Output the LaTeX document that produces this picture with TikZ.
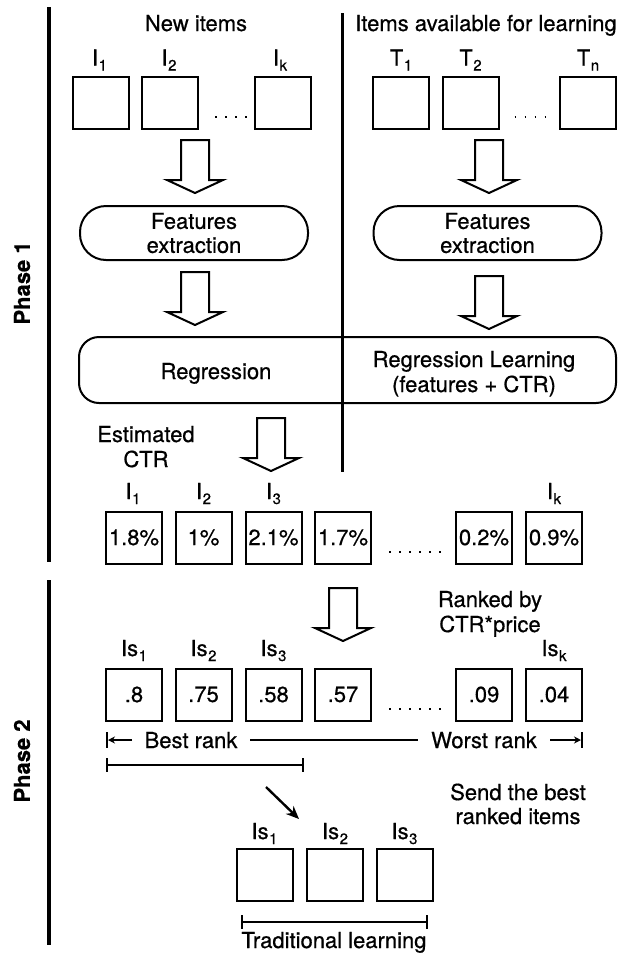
\documentclass[tikz,border=0pt]{standalone}
\usepackage{fontspec}
\setmainfont{TeX Gyre Heros}[FakeBold=0.6]
\usetikzlibrary{arrows.meta,calc}
\newcommand{\lsub}[1]{\kern0.5pt\raisebox{-5pt}{\fontsize{15}{15}\selectfont #1}}
\tikzset{pics/blockarrow/.style={code={
  \draw[line width=2pt, fill=white, line join=miter] (-14,0) -- (-14,40) -- (-28,40) -- (0,53) -- (28,40) -- (14,40) -- (14,0) -- cycle;}}}
\begin{document}
\begin{tikzpicture}[x=1pt,y=-1pt,
  every node/.style={font=\fontsize{22}{24}\selectfont, inner sep=0pt},
  box/.style={draw, line width=2pt, minimum width=56pt, minimum height=52pt},
  pill/.style={draw, line width=2pt, minimum width=228pt, minimum height=54pt, rounded corners=26pt, align=center},
  lbl/.style={anchor=base},
  thinline/.style={line width=1.5pt},
  dotline/.style={line width=1.4pt, dash pattern=on 1.6pt off 8.4pt},
  phaseline/.style={line width=3.5pt},
  ptitle/.style={rotate=90, font=\fontsize{22}{24}\selectfont\bfseries}
]
\useasboundingbox (0,0) rectangle (625,954);
% phase separators
\coordinate (p1t) at (49,7); \coordinate (p1b) at (49,562);
\coordinate (p2t) at (49,580); \coordinate (p2b) at (49,945);
\draw[phaseline] (p1t) -- (p1b);
\draw[phaseline] (p2t) -- (p2b);
\node[ptitle] (ph1) at (22,283) {Phase 1};
\node[ptitle] (ph2) at (22,761) {Phase 2};
% headers
\node[lbl] (hnew) at (196,31) {New items};
\node[lbl] (havail) at (486,31) {Items available for learning};
% top boxes
\node[box] (I1) at (100.5,102.5) {};
\node[box] (I2) at (170,102.5) {};
\node[box] (Ik) at (283,102.5) {};
\node[box] (T1) at (401,102.5) {};
\node[box] (T2) at (470.5,102.5) {};
\node[box] (Tn) at (588,102.5) {};
\node[lbl] (lI1) at ($(I1.north)+(-1,-10)$) {I\lsub{1}};
\node[lbl] (lI2) at ($(I2.north)+(-1,-10)$) {I\lsub{2}};
\node[lbl] (lIk) at ($(Ik.north)+(-3,-10)$) {I\lsub{k}};
\node[lbl] (lT1) at ($(T1.north)+(0,-10)$) {T\lsub{1}};
\node[lbl] (lT2) at ($(T2.north)+(0,-10)$) {T\lsub{2}};
\node[lbl] (lTn) at ($(Tn.north)+(0,-10)$) {T\lsub{n}};
\draw[dotline] ($(I2.east)+(16,14.5)$) -- ++(32,0);
\draw[dotline] ($(T2.east)+(15,14.5)$) -- ++(32,0);
% block arrows row 1
\pic at (195,140) {blockarrow};
\pic at (489,140) {blockarrow};
% features extraction
\node[pill] (FL) at (194,233) {Features\\extraction};
\node[pill] (FR) at (487.5,233) {Features\\extraction};
% block arrows row 2
\pic at (195,272) {blockarrow};
\pic at (489,276) {blockarrow};
% regression
\node[draw, line width=2pt, rounded corners=20pt, minimum width=537pt, minimum height=66pt] (REG) at (347.5,370) {};
\node[lbl] (regL) at (216,379) {Regression};
\node[lbl] (regR1) at (474,367) {Regression Learning};
\node[lbl] (regR2) at (474,392) {(features + CTR)};
% middle separator
\coordinate (mt) at (342,13); \coordinate (mb) at (342,472);
\draw[line width=3pt] (mt) -- (mb);
% estimated CTR
\node[lbl] (est1) at (146,442) {Estimated};
\node[lbl] (est2) at (146,467) {CTR};
\pic at (271,418) {blockarrow};
% row 2: CTR values
\node[box] (C1) at (134,537.5) {1.8\%};
\node[box] (C2) at (203.5,537.5) {1\%};
\node[box] (C3) at (273.5,537.5) {2.1\%};
\node[box] (C4) at (343,537.5) {1.7\%};
\node[box] (C5) at (484,537.5) {0.2\%};
\node[box] (C6) at (554,537.5) {0.9\%};
\node[lbl] (lC1) at ($(C1.north)+(-1,-11.5)$) {I\lsub{1}};
\node[lbl] (lC2) at ($(C2.north)+(0,-11.5)$) {I\lsub{2}};
\node[lbl] (lC3) at ($(C3.north)+(0,-11.5)$) {I\lsub{3}};
\node[lbl] (lC6) at ($(C6.north)+(0,-11.5)$) {I\lsub{k}};
\draw[dotline] ($(C4.east)+(17,14.5)$) -- ++(52,0);
% ranked by
\node[lbl] (rk1) at (490,607) {Ranked by};
\node[lbl] (rk2) at (490,632) {CTR*price};
\pic at (343,588) {blockarrow};
% row 3: scores
\node[box] (S1) at (134,694.5) {.8};
\node[box] (S2) at (203.5,694.5) {.75};
\node[box] (S3) at (273.5,694.5) {.58};
\node[box] (S4) at (343,694.5) {.57};
\node[box] (S5) at (484,694.5) {.09};
\node[box] (S6) at (554,694.5) {.04};
\node[lbl] (lS1) at ($(S1.north)+(0,-11.5)$) {Is\lsub{1}};
\node[lbl] (lS2) at ($(S2.north)+(0,-11.5)$) {Is\lsub{2}};
\node[lbl] (lS3) at ($(S3.north)+(0,-11.5)$) {Is\lsub{3}};
\node[lbl] (lS6) at ($(S6.north)+(0,-11.5)$) {Is\lsub{k}};
\draw[dotline] ($(S4.east)+(17,14.5)$) -- ++(52,0);
% best / worst rank
\coordinate (bt1) at (107,732); \coordinate (bt2) at (107,748);
\coordinate (ba1) at (132,740); \coordinate (ba2) at (108,740);
\draw[thinline] (bt1) -- (bt2);
\draw[thinline, -{Stealth[length=7pt,width=7pt]}] (ba1) -- (ba2);
\node[lbl] (best) at (191,748) {Best rank};
\coordinate (ml1) at (250,740); \coordinate (ml2) at (418,740);
\draw[thinline] (ml1) -- (ml2);
\node[lbl] (worst) at (484,748) {Worst rank};
\coordinate (wa1) at (550,740); \coordinate (wa2) at (581,740);
\coordinate (wt1) at (582,732); \coordinate (wt2) at (582,748);
\draw[thinline, -{Stealth[length=7pt,width=7pt]}] (wa1) -- (wa2);
\draw[thinline] (wt1) -- (wt2);
% bracket of best ranked
\coordinate (bb1) at (107,765); \coordinate (bb2) at (303,765);
\draw[thinline] (bb1) -- (bb2);
\draw[thinline] ($(bb1)+(0,-7)$) -- ($(bb1)+(0,7)$);
\draw[thinline] ($(bb2)+(0,-7)$) -- ($(bb2)+(0,7)$);
% send
\node[lbl] (snd1) at (518,800) {Send the best};
\node[lbl] (snd2) at (518,824) {ranked items};
\coordinate (da1) at (266,787); \coordinate (da2) at (299,819);
\draw[line width=2.4pt, -{Stealth[length=13pt,width=11pt]}] (da1) -- (da2);
% row 4
\node[box] (B1) at (264.5,874.5) {};
\node[box] (B2) at (335,874.5) {};
\node[box] (B3) at (404.5,874.5) {};
\node[lbl] (lB1) at ($(B1.north)+(0,-8.5)$) {Is\lsub{1}};
\node[lbl] (lB2) at ($(B2.north)+(0,-8.5)$) {Is\lsub{2}};
\node[lbl] (lB3) at ($(B3.north)+(0,-8.5)$) {Is\lsub{3}};
\coordinate (tb1) at (242,922); \coordinate (tb2) at (427,922);
\draw[thinline] (tb1) -- (tb2);
\draw[thinline] ($(tb1)+(0,-7)$) -- ($(tb1)+(0,7)$);
\draw[thinline] ($(tb2)+(0,-7)$) -- ($(tb2)+(0,7)$);
\node[lbl] (trad) at (334,948) {Traditional learning};
\end{tikzpicture}
\end{document}
